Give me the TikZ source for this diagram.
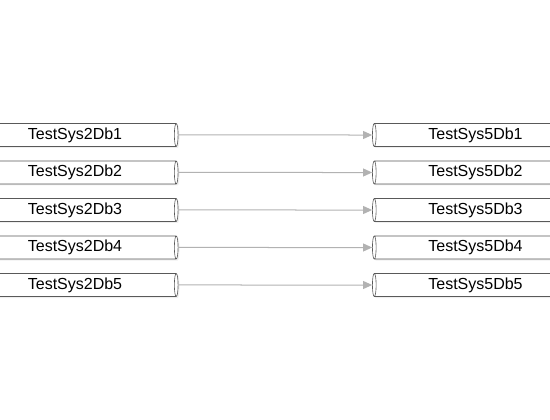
\documentclass[tikz,border=0pt]{standalone}
\usepackage{fontspec}
\setmainfont{Liberation Sans}
\usetikzlibrary{shapes.geometric,arrows.meta,shadows}

\begin{document}
\begin{tikzpicture}[x=1pt,y=1pt,
  dbnode/.style={cylinder,draw=black!65,fill=white,line width=0.6pt,
    minimum width=23pt,minimum height=204pt,aspect=0.25,inner sep=0pt,
    font=\fontsize{16}{19}\selectfont,
    drop shadow={shadow xshift=1.5pt,shadow yshift=-1.5pt,fill=black!12}},
  link/.style={draw=black!30,line width=1pt,
    -{Triangle[length=9pt,width=8pt,fill=black!30]}}]
\useasboundingbox (0,0) rectangle (550,-420);
% source databases
\node[dbnode] (src1) at (75,-135) {TestSys2Db1};
\node[dbnode] (src2) at (75,-172.5) {TestSys2Db2};
\node[dbnode] (src3) at (75,-210) {TestSys2Db3};
\node[dbnode] (src4) at (75,-247.5) {TestSys2Db4};
\node[dbnode] (src5) at (75,-285) {TestSys2Db5};
% target databases
\node[dbnode,shape border rotate=180] (dst1) at (475.5,-135) {TestSys5Db1};
\node[dbnode,shape border rotate=180] (dst2) at (475.5,-172.5) {TestSys5Db2};
\node[dbnode,shape border rotate=180] (dst3) at (475.5,-210) {TestSys5Db3};
\node[dbnode,shape border rotate=180] (dst4) at (475.5,-247.5) {TestSys5Db4};
\node[dbnode,shape border rotate=180] (dst5) at (475.5,-285) {TestSys5Db5};
% connectors
\draw[link] (src1.east) -- (dst1.west);
\draw[link] (src2.east) -- (dst2.west);
\draw[link] (src3.east) -- (dst3.west);
\draw[link] (src4.east) -- (dst4.west);
\draw[link] (src5.east) -- (dst5.west);
\end{tikzpicture}
\end{document}
